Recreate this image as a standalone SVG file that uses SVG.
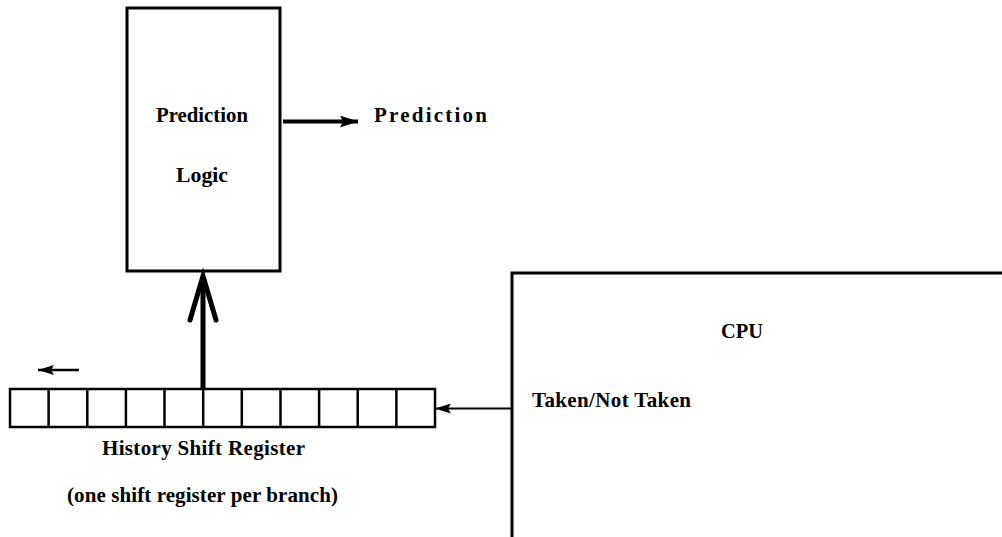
<svg xmlns="http://www.w3.org/2000/svg" width="1002" height="537" viewBox="0 0 1002 537">
<style>
text{font-family:"Liberation Serif","Times New Roman",serif;font-weight:bold;font-size:21px;fill:#000}
.box{fill:none;stroke:#000;stroke-width:3}
.cell{fill:none;stroke:#000;stroke-width:2.5}
.ln{fill:none;stroke:#000}
</style>
<defs>
<marker id="ah" viewBox="0 0 16 10" refX="16" refY="5" markerWidth="16" markerHeight="10" markerUnits="userSpaceOnUse" orient="auto">
<path d="M0,0 L16,5 L0,10 L3,5 Z" fill="#000"/>
</marker>
<marker id="ahBig" viewBox="0 0 18 12" refX="18" refY="6" markerWidth="18" markerHeight="12" markerUnits="userSpaceOnUse" orient="auto">
<path d="M0,0 L18,6 L0,12 L3,6 Z" fill="#000"/>
</marker>
</defs>
<g id="prediction-logic">
<rect class="box" x="127" y="8" width="153" height="263"/>
<text x="202" y="122" text-anchor="middle" textLength="92" lengthAdjust="spacingAndGlyphs">Prediction</text>
<text x="202" y="182" text-anchor="middle" textLength="52" lengthAdjust="spacingAndGlyphs">Logic</text>
</g>
<g id="prediction-output">
<text x="374" y="122" textLength="113" lengthAdjust="spacing">Prediction</text>
</g>
<g id="cpu">
<path class="ln" stroke-width="3" d="M512,537 L512,273 L1002,273"/>
<text x="742" y="338" text-anchor="middle" textLength="42" lengthAdjust="spacingAndGlyphs">CPU</text>
<text x="532" y="407" textLength="159" lengthAdjust="spacing">Taken/Not Taken</text>
</g>
<g id="history-register">
<rect class="cell" x="10" y="389" width="425" height="38"/>
<path class="cell" d="M48.6,389V427M87.3,389V427M125.9,389V427M164.5,389V427M203.2,389V427M241.8,389V427M280.5,389V427M319.1,389V427M357.7,389V427M396.4,389V427"/>
<text x="203.5" y="455" text-anchor="middle" textLength="203" lengthAdjust="spacing">History Shift Register</text>
<text x="202.5" y="502" text-anchor="middle" textLength="271" lengthAdjust="spacing">(one shift register per branch)</text>
</g>
<g id="connectors">
<line class="ln" stroke-width="4" x1="283" y1="121.5" x2="358" y2="121.5" marker-end="url(#ahBig)"/>
<line class="ln" stroke-width="5" x1="203" y1="389" x2="203" y2="277"/>
<path class="ln" stroke-width="5" stroke-linecap="round" stroke-linejoin="miter" d="M190,320 L203,276 L216,320"/>
<line class="ln" stroke-width="2.5" x1="79" y1="370" x2="38" y2="370" marker-end="url(#ah)"/>
<line class="ln" stroke-width="2" x1="512" y1="408.5" x2="435" y2="408.5" marker-end="url(#ah)"/>
</g>
</svg>
